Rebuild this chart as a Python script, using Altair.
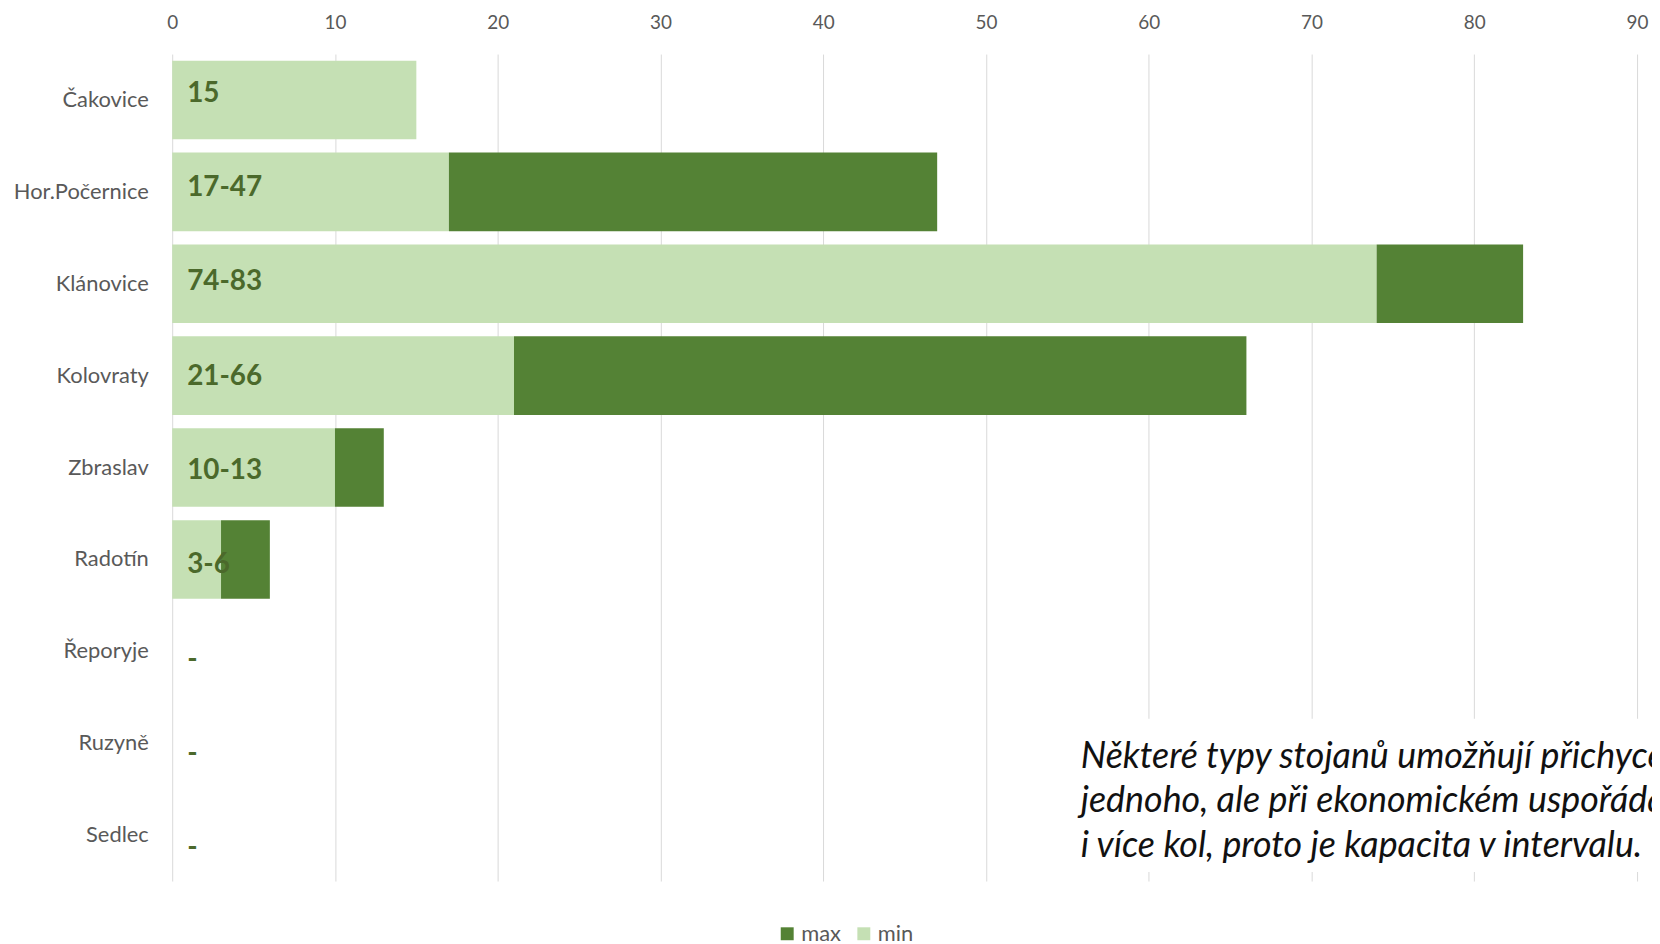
import altair as alt
import pandas as pd

categories = ["Čakovice", "Hor.Počernice", "Klánovice", "Kolovraty", "Zbraslav",
              "Radotín", "Řeporyje", "Ruzyně", "Sedlec"]
min_values = [15, 17, 74, 21, 10, 3, 0, 0, 0]
max_values = [15, 47, 83, 66, 13, 6, 0, 0, 0]
series_names = ["max", "min"]
series_colors = ["#548235", "#C5E0B4"]
x_ticks = [0, 10, 20, 30, 40, 50, 60, 70, 80, 90]
note_lines = [
    "Některé typy stojanů umožňují přichycení",
    "jednoho, ale při ekonomickém uspořádání",
    "i více kol, proto je kapacita v intervalu.",
]

rows = []
labels = []
for c, lo, hi in zip(categories, min_values, max_values):
    rows.append({"cat": c, "series": "min", "start": 0, "end": lo})
    rows.append({"cat": c, "series": "max", "start": lo, "end": hi})
    if hi == 0:
        lab = "-"
    elif lo == hi:
        lab = str(lo)
    else:
        lab = f"{lo}-{hi}"
    labels.append({"cat": c, "label": lab})
bar_df = pd.DataFrame(rows)
label_df = pd.DataFrame(labels)
one_df = pd.DataFrame({"k": [0]})

W, H = 1479, 831
xscale = alt.Scale(domain=[0, 90.43], nice=False, zero=True)

bars = alt.Chart(bar_df).mark_bar().encode(
    x=alt.X("start:Q", scale=xscale, title=None,
            axis=alt.Axis(orient="top", values=x_ticks, grid=True, gridColor="#D9D9D9",
                          labelFontSize=19, labelPadding=22, format="d",
                          labelFlush=False)),
    x2="end:Q",
    y=alt.Y("cat:N", sort=categories, title=None,
            scale=alt.Scale(paddingInner=0.145, paddingOuter=0.0725),
            axis=alt.Axis(labelFontSize=22, labelPadding=24, grid=False)),
    color=alt.Color("series:N", sort=series_names,
                    scale=alt.Scale(domain=series_names, range=series_colors),
                    legend=alt.Legend(orient="none", legendX=607, legendY=873,
                                      direction="horizontal", title=None,
                                      symbolType="square", symbolSize=169,
                                      symbolStrokeWidth=0,
                                      labelFont="Lato", labelFontSize=22,
                                      labelColor="#595959", labelOffset=3,
                                      columnPadding=12)),
)

value_labels = alt.Chart(label_df).mark_text(
    align="left", baseline="middle", dx=15, font="Lato", fontWeight="bold",
    fontSize=28, color="#4B692B"
).encode(
    x=alt.datum(0),
    y=alt.Y("cat:N", sort=categories, axis=None,
            scale=alt.Scale(type="point", range=[40, 798], padding=0)),
    text="label:N",
)

note_box = alt.Chart(one_df).mark_rect(color="white").encode(
    x=alt.value(886), x2=alt.value(1600), y=alt.value(668), y2=alt.value(822)
)

note = alt.Chart(one_df).mark_text(
    align="left", baseline="middle", font="Lato", fontStyle="italic",
    fontSize=36, lineHeight=45, color="#111111", lineBreak="\n"
).encode(
    x=alt.value(913), y=alt.value(706), text=alt.value("\n".join(note_lines))
)

chart = alt.layer(bars, value_labels, note_box, note).resolve_scale(
    y="independent"
).properties(
    width=W, height=H,
    autosize=alt.AutoSizeParams(type="none"),
    padding={"left": 165, "top": 44, "right": 8, "bottom": 61},
).configure_view(stroke=None).configure_axis(
    labelFont="Lato", labelColor="#595959", domain=False, ticks=False, tickSize=0
)

chart.save("out.html", embed_options={"renderer": "svg", "actions": False})
